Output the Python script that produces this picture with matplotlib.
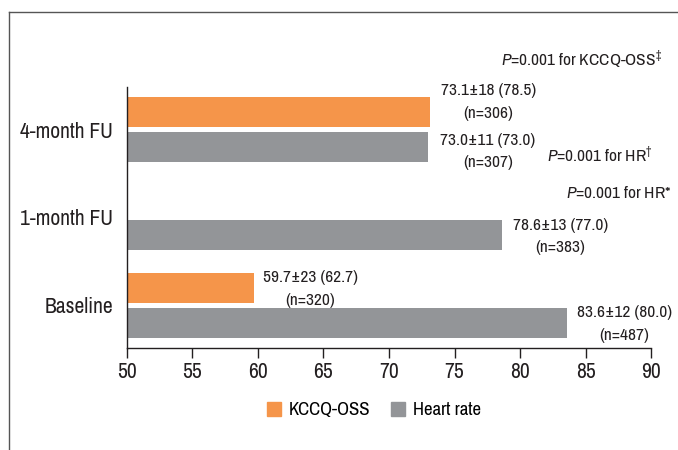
import numpy as np
import matplotlib
matplotlib.use("Agg")
import matplotlib.pyplot as plt
from matplotlib.lines import Line2D
from matplotlib.patches import Patch

plt.rcParams['font.family'] = ['Archivo Narrow', 'DejaVu Sans']
plt.rcParams['mathtext.fontset'] = 'custom'
plt.rcParams['mathtext.rm'] = 'Archivo Narrow'
plt.rcParams['mathtext.it'] = 'Archivo Narrow:italic'

# data
categories = ["Baseline", "1-month FU", "4-month FU"]
kccq = [59.7, np.nan, 73.1]
heart_rate = [83.6, 78.6, 73.0]
kccq_labels = ["59.7±23 (62.7)\n(n=320)", None, "73.1±18 (78.5)\n(n=306)"]
hr_labels = ["83.6±12 (80.0)\n(n=487)", "78.6±13 (77.0)\n(n=383)", "73.0±11 (73.0)\n(n=307)"]
xticks = [50, 55, 60, 65, 70, 75, 80, 85, 90]

ORANGE = "#F5954A"
GRAY = "#939598"
TXT = "#231F20"

fig = plt.figure(figsize=(6.78, 4.5), dpi=100)
ax = fig.add_axes([0.1873, 0.2267, 0.7729, 0.58])

y = np.arange(len(categories))
h = 0.343
off = 0.2
ax.barh(y + off, kccq, height=h, left=0, color=ORANGE)
ax.barh(y - off, heart_rate, height=h, left=0, color=GRAY)

# value labels (x offset in points, y offset in points)
kccq_off = [(6.5, -1), None, (8, 7.5)]
hr_off = [(7, -1), (8, -1), (8.5, -3)]
for i in range(len(categories)):
    if kccq_labels[i] is not None:
        ax.annotate(kccq_labels[i], (kccq[i], y[i] + off), xytext=kccq_off[i],
                    textcoords="offset points", ha="left", va="center",
                    multialignment="center", fontsize=12.5, color=TXT,
                    linespacing=1.6)
    ax.annotate(hr_labels[i], (heart_rate[i], y[i] - off), xytext=hr_off[i],
                textcoords="offset points", ha="left", va="center",
                multialignment="center", fontsize=12.5, color=TXT,
                linespacing=1.6)

# p-value notes
tr = ax.get_yaxis_transform()
ax.text(1.021, 2.80, r"$\it{P}$=0.001 for KCCQ-OSS$^{\ddag}$", transform=tr,
        ha="right", va="center", fontsize=12.5, color=TXT)
ax.text(1.004, 1.72, r"$\it{P}$=0.001 for HR$^{\dag}$", transform=tr,
        ha="right", va="center", fontsize=12.5, color=TXT)
ax.text(1.040, 1.285, r"$\it{P}$=0.001 for HR*", transform=tr,
        ha="right", va="center", fontsize=12.5, color=TXT)

ax.set_xlim(50, 90)
ax.set_ylim(-0.49, 2.49)
ax.set_xticks(xticks)
ax.set_yticks(y)
ax.set_yticklabels(categories)
ax.tick_params(axis="x", length=7, width=1, labelsize=15.5, pad=3, colors=TXT)
ax.tick_params(axis="y", length=0, labelsize=15.5, pad=10, colors=TXT)
for s in ["top", "right"]:
    ax.spines[s].set_visible(False)
for s in ["left", "bottom"]:
    ax.spines[s].set_color(TXT)
    ax.spines[s].set_linewidth(1)

handles = [Patch(color=ORANGE, label="KCCQ-OSS"), Patch(color=GRAY, label="Heart rate")]
fig.legend(handles=handles, loc="center", bbox_to_anchor=(374 / 678, 1 - 410 / 450),
           ncol=2, frameon=False, fontsize=13.5, handlelength=0.75, handleheight=0.75,
           handletextpad=0.4, columnspacing=1.1)

# outer frame
fig.add_artist(Line2D([9 / 678, 1], [1 - 12 / 450, 1 - 12 / 450], color="#555555", lw=1))
fig.add_artist(Line2D([9 / 678, 9 / 678], [0, 1 - 12 / 450], color="#555555", lw=1))

fig.savefig("out.png", dpi=100)
